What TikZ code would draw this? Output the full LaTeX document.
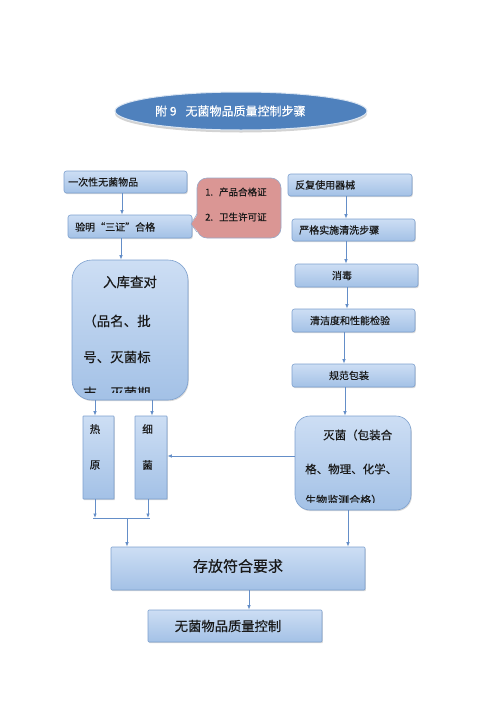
\documentclass[tikz,border=0pt]{standalone}
\usepackage{fontspec}
\setmainfont{Noto Sans CJK SC}[UprightFeatures={FakeBold=0.35}]
\usetikzlibrary{arrows.meta,shadows,shapes.geometric}
\definecolor{bxtop}{RGB}{205,222,244}
\definecolor{bxbot}{RGB}{163,193,230}
\definecolor{bxline}{RGB}{125,160,206}
\definecolor{arrc}{RGB}{100,142,200}
\definecolor{pinkf}{RGB}{218,150,148}
\definecolor{pinkl}{RGB}{150,168,200}
\definecolor{ellf}{RGB}{79,129,189}
\definecolor{txt}{RGB}{25,25,25}
\tikzset{
 bx/.style={draw=bxline, line width=0.6pt, top color=bxtop, bottom color=bxbot, rounded corners=2.5pt, inner sep=0pt,
   drop shadow={shadow xshift=0.8pt, shadow yshift=-1.2pt, opacity=0.25, fill=black!60}},
 arr/.style={draw=arrc, line width=0.8pt, -{Latex[length=4.5pt,width=3.6pt]}},
 ln/.style={draw=arrc, line width=0.8pt},
 tx/.style={inner sep=0pt, text=txt, font=\fontsize{10}{12}\selectfont},
 txb/.style={inner sep=0pt, text=txt, font=\fontsize{13.5}{16}\selectfont},
 txm/.style={inner sep=0pt, text=txt, font=\fontsize{11.5}{14}\selectfont},
}
\begin{document}
\begin{tikzpicture}[x=1pt,y=-1pt]
\useasboundingbox (0,0) rectangle (500,707);
% title ellipse
\node[ellipse, fill=ellf, draw=white!80!ellf, line width=1pt, minimum width=252pt, minimum height=38pt, inner sep=0pt,
  drop shadow={shadow xshift=0pt, shadow yshift=-2.5pt, opacity=0.35, fill=black!50}] (E) at (241,111) {};
\node[inner sep=0pt, text=white, font=\fontsize{12}{14}\selectfont, anchor=west] (Et) at (155,111) {附 9\hspace{9pt}无菌物品质量控制步骤};
% left column
\node[bx, minimum width=123pt, minimum height=22pt] (b1) at (125.5,182) {};
\node[tx, anchor=west] (b1t) at (68,182) {一次性无菌物品};
\node[bx, minimum width=124pt, minimum height=23pt] (b2) at (130,226.5) {};
\node[tx, anchor=west] (b2t) at (75,227) {验明“三证”合格};
% pink callout
\node[draw=pinkl, fill=pinkf, line width=0.6pt, rounded corners=10pt, minimum width=84pt, minimum height=60pt, inner sep=0pt] (p) at (239,208) {};
\fill[pinkf] (198.2,214) -- (191,224) -- (198.2,232) -- cycle;
\draw[pinkl, line width=0.6pt] (197,214) -- (191,224) -- (197,232);
\node[tx, anchor=west, font=\fontsize{9.5}{11}\selectfont] (p1) at (205,192) {1.\hspace{6pt}产品合格证};
\node[tx, anchor=west, font=\fontsize{9.5}{11}\selectfont] (p2) at (205,217) {2.\hspace{6pt}卫生许可证};
% storage check box
\node[bx, rounded corners=20pt, minimum width=116pt, minimum height=140pt] (L) at (130,330) {};
\begin{scope}
\clip (72,260) rectangle (188,392);
\node[txb] (L1) at (130,282) {入库查对};
\node[txb, anchor=west] (L2) at (83,321) {（品名、批};
\node[txb, anchor=west] (L3) at (83,357) {号、灭菌标};
\node[txb, anchor=west] (L4) at (83,393) {志、灭菌期};
\end{scope}
% heat / bacteria
\node[bx, rounded corners=0.5pt, minimum width=31pt, minimum height=83pt] (h) at (98.5,457.5) {};
\node[tx, font=\fontsize{10.5}{12}\selectfont] (h1) at (95,429) {热};
\node[tx, font=\fontsize{10.5}{12}\selectfont] (h2) at (95,465) {原};
\node[bx, rounded corners=0.5pt, minimum width=32pt, minimum height=83pt] (g) at (151,457.5) {};
\node[tx, font=\fontsize{10.5}{12}\selectfont] (g1) at (147.5,429) {细};
\node[tx, font=\fontsize{10.5}{12}\selectfont] (g2) at (147.5,465) {菌};
% right column
\node[bx, minimum width=124pt, minimum height=22pt] (r1) at (350,185) {};
\node[tx, anchor=west] (r1t) at (295,185) {反复使用器械};
\node[bx, minimum width=123pt, minimum height=22pt] (r2) at (353.5,230) {};
\node[tx, anchor=west] (r2t) at (299,230) {严格实施清洗步骤};
\node[bx, minimum width=123pt, minimum height=23pt] (r3) at (356.5,275.5) {};
\node[tx] (r3t) at (342,275.5) {消毒};
\node[bx, minimum width=123pt, minimum height=23pt] (r4) at (353.5,320.5) {};
\node[tx] (r4t) at (350,320.5) {清洁度和性能检验};
\node[bx, minimum width=123pt, minimum height=23pt] (r5) at (353.5,375.5) {};
\node[tx] (r5t) at (349,375.5) {规范包装};
\node[bx, rounded corners=15pt, minimum width=116pt, minimum height=94pt] (r6) at (353,463) {};
\begin{scope}
\clip (295,416) rectangle (411,502);
\node[txm, anchor=west] (r6a) at (323,435) {灭菌（包装合};
\node[txm, anchor=west] (r6b) at (305,469) {格、物理、化学、};
\node[txm, anchor=west, font=\fontsize{11}{13}\selectfont] (r6c) at (305,500) {生物监测合格）};
\end{scope}
% bottom
\node[bx, rounded corners=1pt, minimum width=254pt, minimum height=43pt] (S) at (238,568.5) {};
\node[tx, font=\fontsize{15}{18}\selectfont] (St) at (238,566) {存放符合要求};
\node[bx, rounded corners=1pt, minimum width=174pt, minimum height=32pt] (F) at (235,626) {};
\node[tx, font=\fontsize{13.3}{16}\selectfont] (Ft) at (228,626) {无菌物品质量控制};
% connectors
\draw[arr] (b1.south -| 122,0) -- (b2.north -| 122,0);
\draw[arr] (b2.south -| 121,0) -- (L.north -| 121,0);
\draw[arr] (L.south -| 95,0) -- (h.north -| 95,0);
\draw[arr] (L.south -| 152,0) -- (g.north -| 152,0);
\coordinate (j1) at (95,518);
\coordinate (j2) at (148,518);
\coordinate (jl) at (93,518);
\coordinate (jr) at (150,518);
\coordinate (jm) at (127,518);
\draw[arr] (h.south -| j1) -- (j1);
\draw[arr] (g.south -| j2) -- (j2);
\draw[ln] (jl) -- (jr);
\draw[arr] (jm) -- (S.north -| jm);
\draw[arr] (r1.south -| 346,0) -- (r2.north -| 346,0);
\draw[arr] (r2.south -| 346,0) -- (r3.north -| 346,0);
\draw[arr] (r3.south -| 347,0) -- (r4.north -| 347,0);
\draw[arr] (r4.south -| 344,0) -- (r5.north -| 344,0);
\draw[arr] (r5.south -| 345,0) -- (r6.north -| 345,0);
\draw[arr] (r6.west |- 0,456) -- (g.east |- 0,456);
\draw[arr] (r6.south -| 348,0) -- (S.north -| 348,0);
\draw[arr] (S.south -| 249,0) -- (F.north -| 249,0);
\end{tikzpicture}
\end{document}
